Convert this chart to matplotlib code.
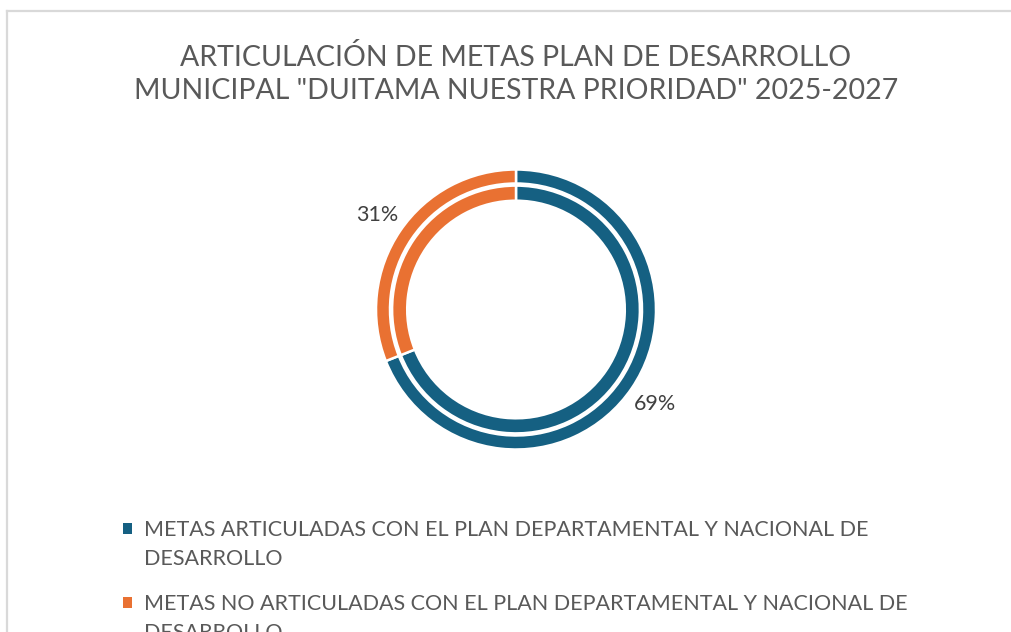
import matplotlib
matplotlib.use("Agg")
import matplotlib.pyplot as plt
from matplotlib.lines import Line2D

categories = [
    "METAS ARTICULADAS CON EL PLAN DEPARTAMENTAL Y NACIONAL DE\nDESARROLLO",
    "METAS NO ARTICULADAS CON EL PLAN DEPARTAMENTAL Y NACIONAL DE\nDESARROLLO",
]
values = [69, 31]
colors = ["#156082", "#E97132"]
title = 'ARTICULACIÓN DE METAS PLAN DE DESARROLLO\nMUNICIPAL "DUITAMA NUESTRA PRIORIDAD" 2025-2027'

W, H = 1011, 632
plt.rcParams['font.family'] = ['Lato', 'DejaVu Sans']
fig = plt.figure(figsize=(W / 100, H / 100), dpi=100)
fig.patch.set_facecolor('white')

# chart border (top and left visible)
fig.add_artist(Line2D([6.5 / W, 6.5 / W], [0, 1 - 10.5 / H], transform=fig.transFigure,
                      color='#d9d9d9', lw=1.6))
fig.add_artist(Line2D([6.5 / W, 1], [1 - 10.5 / H, 1 - 10.5 / H], transform=fig.transFigure,
                      color='#d9d9d9', lw=1.6))

# donut axes: radius 1 = 140 px, center (516, 309.5)
cx, cy, R = 516, 309.5, 140
half = 200
ax = fig.add_axes([(cx - half) / W, (H - cy - half) / H, 2 * half / W, 2 * half / H])
lim = half / R
ax.axis('off')

wedges, _, autotexts = ax.pie(values, colors=colors, radius=1.0, startangle=90, counterclock=False,
                              wedgeprops=dict(width=0.1, edgecolor='white', linewidth=1.8),
                              autopct='%1.0f%%', pctdistance=1.2,
                              textprops=dict(color='#404040', fontsize=15.5))
ax.pie(values, colors=colors, radius=0.885, startangle=90, counterclock=False,
       wedgeprops=dict(width=0.108, edgecolor='white', linewidth=1.8))
ax.set_xlim(-lim, lim)
ax.set_ylim(-lim, lim)
ax.set_aspect('equal')

fig.text(cx / W, 1 - 74 / H, title, ha='center', va='center', fontsize=20.5,
         color='#595959', linespacing=1.36)

first_lines = [c.split('\n')[0] for c in categories]
rest_lines = [c.split('\n', 1)[1] for c in categories]
leg_fs = 15.5
leg = fig.legend(wedges, first_lines, loc='upper left',
                 bbox_to_anchor=(123 / W, 1 - 520 / H), frameon=False,
                 fontsize=leg_fs, labelcolor='#595959', handlelength=0.42, handleheight=0.42,
                 handletextpad=0.55, labelspacing=2.5, borderpad=0, borderaxespad=0)
for h in leg.legend_handles:
    h.set_edgecolor('none')

fig.canvas.draw()
renderer = fig.canvas.get_renderer()
inv = fig.transFigure.inverted()
for t, rest in zip(leg.get_texts(), rest_lines):
    bb = t.get_window_extent(renderer)
    x0, y0 = inv.transform((bb.x0, (bb.y0 + bb.y1) / 2 - 29))
    fig.text(x0, y0, rest, ha='left', va='center', fontsize=leg_fs, color='#595959')

fig.savefig('out.png', dpi=100, facecolor='white')
